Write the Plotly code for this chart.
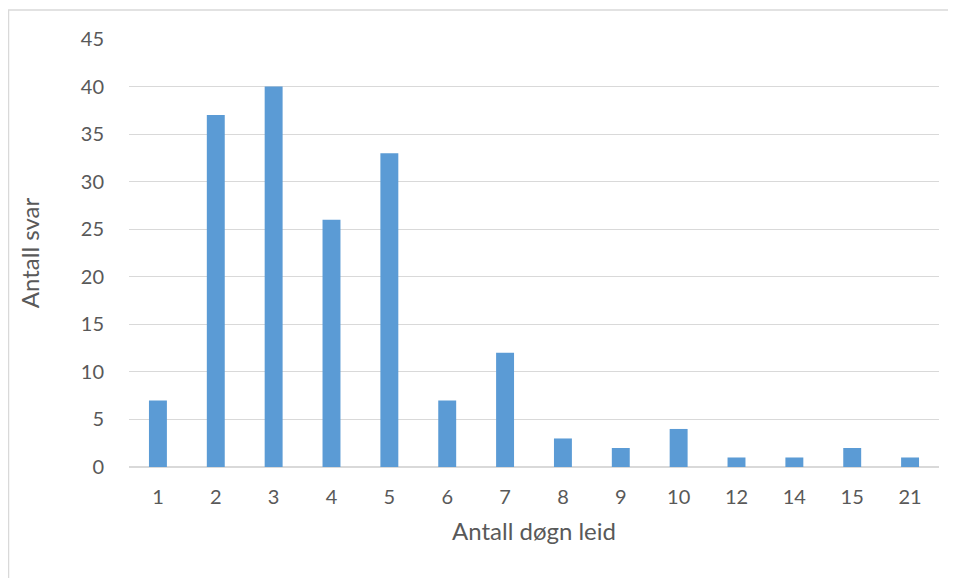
import plotly.graph_objects as go

categories = ["1", "2", "3", "4", "5", "6", "7", "8", "9", "10", "12", "14", "15", "21"]
values = [7, 37, 40, 26, 33, 7, 12, 3, 2, 4, 1, 1, 2, 1]
y_ticks = [0, 5, 10, 15, 20, 25, 30, 35, 40, 45]

# page body has an 8px margin, so the figure is sized/offset to compensate
W, H = 948, 570
L, R, T, B = 121, 17, 31, 111
pw, ph = W - L - R, H - T - B

def px(x):
    return (x - L) / pw

def py(y):
    return (H - B - y) / ph

fig = go.Figure(go.Bar(
    x=categories, y=values,
    marker=dict(color="#5b9bd5", line=dict(width=0)),
))

font = "Lato, Noto Sans, sans-serif"
fig.update_layout(
    width=W, height=H,
    margin=dict(l=L, r=R, t=T, b=B),
    paper_bgcolor="white", plot_bgcolor="white",
    bargap=0.69,
    showlegend=False,
    font=dict(family=font, color="#595959", size=16),
    xaxis=dict(
        type="category", showgrid=False, showline=False, ticks="",
        tickfont=dict(size=20, color="#595959"),
        ticklabelstandoff=16,
        title=dict(text="Antall døgn leid", font=dict(size=24, color="#595959"), standoff=16),
    ),
    yaxis=dict(
        range=[0, 45], tickvals=y_ticks, showgrid=True, gridcolor="#d9d9d9", gridwidth=1,
        zeroline=True, zerolinecolor="#d9d9d9", zerolinewidth=1.5,
        showline=False, ticks="",
        tickfont=dict(size=20, color="#595959"),
        ticklabelstandoff=24,
        title=dict(text="Antall svar", font=dict(size=24, color="#595959"), standoff=34),
    ),
    shapes=[
        dict(type="line", xref="paper", yref="paper", x0=px(0.5), x1=px(0.5), y0=py(2), y1=py(572),
             line=dict(color="#d9d9d9", width=1.5)),
        dict(type="line", xref="paper", yref="paper", x0=px(0), x1=px(950), y0=py(2), y1=py(2),
             line=dict(color="#d9d9d9", width=1.5)),
    ],
)

fig.write_html("out.html")
